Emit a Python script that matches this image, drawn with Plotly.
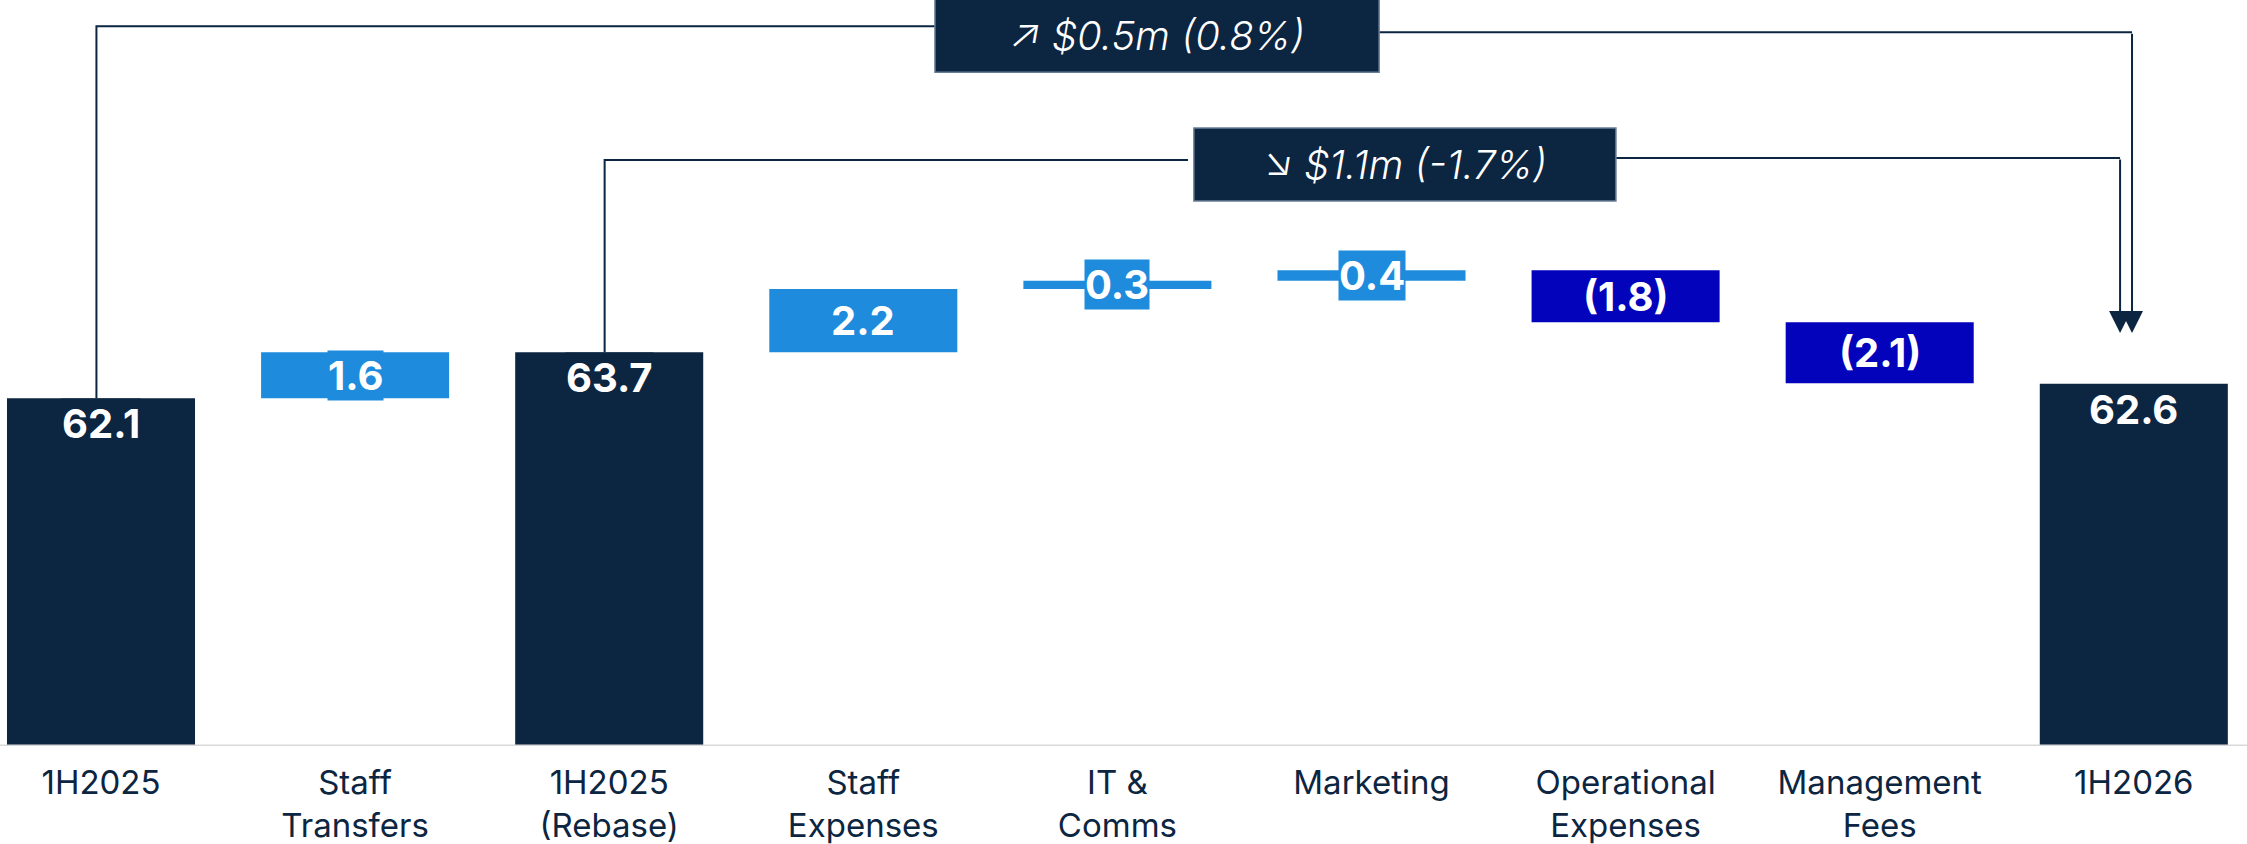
import plotly.graph_objects as go

# ---------------- data ----------------
categories = ["1H2025", "Staff<br>Transfers", "1H2025<br>(Rebase)", "Staff<br>Expenses",
              "IT &<br>Comms", "Marketing", "Operational<br>Expenses", "Management<br>Fees", "1H2026"]
values = [62.1, 1.6, 63.7, 2.2, 0.28, 0.37, -1.81, -2.12, 62.6]
kinds = ["total", "delta", "total", "delta", "delta", "delta", "delta", "delta", "total"]

# comparison brackets: (from index, to index, label)
comparisons = [
    (0, 8, "↗ $0.5m (0.8%)"),
    (2, 8, "↘ $1.1m (-1.7%)"),
]

# ---------------- style ----------------
NAVY = "#0C2541"
INC = "#1F8BDD"
DEC = "#0303BC"
FONT = "Inter"

xs = list(range(len(categories)))
bases, tops, colors, labels = [], [], [], []
running = 0.0
for v, k in zip(values, kinds):
    if k == "total":
        b = 0.0
        running = v
        colors.append(NAVY)
    else:
        b = running
        running = running + v
        colors.append(INC if v >= 0 else DEC)
    bases.append(b)
    tops.append(b + v)
    labels.append(f"{v:.1f}" if v >= 0 else f"({abs(v):.1f})")

fig = go.Figure()
fig.add_trace(go.Bar(
    x=xs, y=values, base=bases, width=0.74,
    marker=dict(color=colors, line=dict(width=0)),
    hoverinfo="skip", showlegend=False,
))

annotations = []
# value labels
for i, (k, b, t, lab, c) in enumerate(zip(kinds, bases, tops, labels, colors)):
    if k == "total":
        y, ya = t, "top"
    else:
        y, ya = (b + t) / 2, "middle"
    annotations.append(dict(
        x=i, y=y, xref="x", yref="y", text=lab, showarrow=False,
        yanchor=ya, xanchor="center",
        font=dict(family=FONT, size=40, color="white", weight="bold"),
        bgcolor=c, borderpad=0,
    ))

shapes = []
# bracket geometry (y levels in data units, box extents)
levels_left = [75.04, 70.38]
levels_right = [74.83, 70.45]
box_x = [(3.282, 5.030), (4.301, 5.962)]
box_y = [(73.44, 75.99), (68.96, 71.50)]
line_end_left = [3.282, 4.278]
arrow_x = [7.993, 7.946]
arrow_tip = 64.37
x_off = -0.018

for j, (fi, ti, txt) in enumerate(comparisons):
    x0 = fi + x_off
    shapes.append(dict(type="path",
                       path=f"M {x0},{tops[fi]} L {x0},{levels_left[j]} L {line_end_left[j]},{levels_left[j]}",
                       xref="x", yref="y", line=dict(color=NAVY, width=2), layer="above"))
    shapes.append(dict(type="line", x0=box_x[j][1], x1=arrow_x[j], y0=levels_right[j], y1=levels_right[j],
                       xref="x", yref="y", line=dict(color=NAVY, width=2), layer="above"))
    annotations.append(dict(
        x=arrow_x[j], y=arrow_tip, ax=arrow_x[j], ay=levels_right[j],
        xref="x", yref="y", axref="x", ayref="y", text="", showarrow=True,
        arrowhead=2, arrowsize=2.2, arrowwidth=2, arrowcolor=NAVY,
    ))

for j, (fi, ti, txt) in enumerate(comparisons):
    shapes.append(dict(type="rect", x0=box_x[j][0], x1=box_x[j][1], y0=box_y[j][0], y1=box_y[j][1],
                       xref="x", yref="y", fillcolor=NAVY, line=dict(color="#6A7E98", width=1.5),
                       layer="above"))
    annotations.append(dict(
        x=(box_x[j][0] + box_x[j][1]) / 2, y=(box_y[j][0] + box_y[j][1]) / 2,
        xref="x", yref="y", text=txt, showarrow=False,
        font=dict(family=FONT, size=40, color="white", style="italic", weight=300),
    ))

# baseline
shapes.append(dict(type="line", xref="paper", yref="y", x0=0, x1=1, y0=50, y1=50,
                   line=dict(color="#D9D9D9", width=3), layer="above"))

fig.update_layout(
    width=2247, height=844,
    margin=dict(l=0, r=0, t=0, b=98),
    paper_bgcolor="white", plot_bgcolor="white",
    bargap=0.26,
    xaxis=dict(
        range=[-0.3975, 8.4455], tickmode="array", tickvals=xs, ticktext=categories,
        showgrid=False, zeroline=False, showline=False, ticks="",
        tickfont=dict(family=FONT, size=33, color=NAVY),
        ticklabelstandoff=14,
    ),
    yaxis=dict(range=[50, 75.95], visible=False, showgrid=False, zeroline=False),
    shapes=shapes, annotations=annotations,
)

fig.write_html("out.html", config={"displayModeBar": False},
               post_script="document.body.style.margin='0';")
